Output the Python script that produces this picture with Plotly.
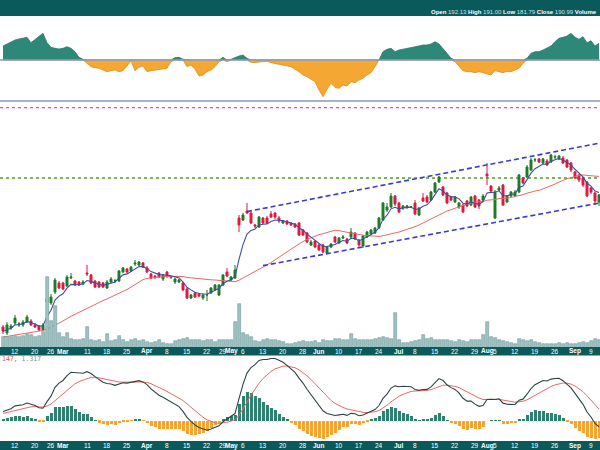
import plotly.graph_objects as go
import pandas as pd

W, H = 600, 450

# ---------------- data ----------------
tick_idx = [3, 8, 12, 15, 21, 26, 31, 36, 41, 46, 51, 55, 57, 60, 65, 70, 75, 79, 84, 89, 94,
            99, 103, 108, 113, 118, 121, 123, 128, 133, 138, 143, 147]
tick_text = ["12", "20", "26", "Mar", "11", "18", "25", "Apr", "8", "15", "22", "29", "May", "6", "13",
             "20", "28", "Jun", "10", "17", "24", "Jul", "8", "15", "22", "29", "Aug", "5", "12", "19",
             "26", "Sep", "9"]
month_labels = {"Mar", "Apr", "May", "Jun", "Jul", "Aug", "Sep"}

warmup_close = [154.5, 154.75, 154.25, 155, 155.25, 154.75, 155, 155.5, 155.25, 155, 155.75, 155.5,
                156, 155.75, 155.5, 155.25, 155.75, 156.25, 156.5, 156.25, 156.75, 157, 157.25, 157.5]

open_ = [158.25, 156.75, 158, 159.25, 158.75, 158.75, 159.5, 159.75, 158.75, 158.5,
         157.5, 164.5, 164.25, 167, 169.25, 169.25, 168.5, 170.5, 169.75, 169.5,
         169, 171.75, 171.25, 169.75, 169.5, 169.25, 168, 169.5, 169.75, 169.75,
         172, 172.75, 172.25, 174, 173.75, 174.25, 173, 171.5, 171, 171.75,
         170.25, 172, 170.75, 169.5, 169.5, 169.25, 167.75, 165.5, 166.75, 166.5,
         165.5, 166.25, 166.75, 167.5, 166.25, 168.75, 172, 170, 170.5, 185.5,
         185, 187.25, 186.75, 183.75, 183.25, 185.5, 185.5, 186.5, 186.75, 185.5,
         184.25, 184.75, 184.25, 184, 184.25, 182.5, 181.75, 178.75, 179.75, 178.75,
         178.75, 176.75, 178.25, 180.75, 179.25, 180.5, 180.25, 180.75, 181.75, 180,
         178.5, 180.75, 181.5, 181.75, 183, 185, 187.5, 188.25, 191, 189.25,
         188, 188.25, 188.25, 189.25, 186.25, 190.5, 190.75, 190, 192, 194.5,
         193.25, 191.75, 190.75, 189.5, 188.25, 188.75, 189.75, 188.75, 191, 190,
         190, 196.5, 193.5, 185.5, 192.5, 193.75, 189.5, 191, 191, 192,
         195.5, 195.75, 197.5, 200, 200.25, 199.25, 199.75, 199.5, 200.75, 200.25,
         200.5, 200, 199.25, 197, 196.25, 195.5, 194.5, 193, 191.75, 189.5]
high = [158.75, 159.5, 159, 161.25, 159.5, 160, 161.25, 160.25, 159.25, 158.75,
        159.25, 166, 166.5, 170.5, 169.75, 169.5, 171.25, 171.75, 170, 169.75,
        170, 173.75, 171.5, 170, 169.75, 169.5, 170, 170.75, 170.25, 172.5,
        173.25, 173, 173.5, 175, 174.75, 174.5, 173.5, 171.75, 171.25, 172,
        171.5, 172.25, 171, 170.5, 170.25, 169.5, 168, 166.5, 167, 166.75,
        166.5, 167.5, 168.25, 169, 169, 171.5, 173, 171, 173.75, 186.25,
        186.75, 189.25, 187, 184, 186, 185.75, 186, 187.25, 187, 186,
        185, 185, 184.5, 184.25, 184.5, 182.75, 182, 180, 180, 179,
        179, 178.5, 179.25, 181, 180.75, 181.25, 180.5, 183, 182, 180.25,
        181.25, 182.25, 182.75, 183.25, 185.75, 189.5, 189.25, 191.75, 191.25, 189.5,
        188.75, 188.75, 188.5, 190, 188.25, 191.75, 191.25, 192.25, 194.5, 196,
        193.5, 192, 191, 191, 189.5, 189, 190, 191, 191.25, 190.25,
        191.5, 199.25, 193.75, 192.5, 193.5, 194, 191.25, 192.25, 192.5, 196.5,
        195.75, 198.75, 200.5, 200.5, 200.5, 200.5, 200.25, 201.5, 201.25, 201.25,
        201, 200.25, 199.5, 197.25, 196.5, 195.75, 194.75, 193.25, 192, 191.5]
low = [156.5, 156.25, 157.5, 158.75, 158.25, 158.25, 159.25, 158.5, 158, 157.25,
       157.25, 164, 163.75, 166.5, 167.75, 167.5, 168.25, 170.25, 168.5, 168.5,
       168.75, 171, 169, 168, 168, 168, 167.75, 169.25, 169.25, 169.5,
       171.75, 171.75, 172, 173.5, 173.5, 173, 171.75, 170.25, 170.25, 170.5,
       169.75, 170.5, 170.25, 169, 169.25, 167.25, 165.25, 165.25, 165.5, 165.75,
       165, 164.75, 166.5, 167.25, 166, 168.5, 170.75, 169.75, 170.25, 182,
       184.75, 186.5, 184, 183, 183, 184, 184, 185.5, 185.25, 184.25,
       184, 183.75, 183.5, 183, 181, 181, 179.25, 178.5, 178, 177.25,
       176.75, 176.5, 178, 179.25, 179, 180.25, 179, 180.5, 180, 178.25,
       178, 180.5, 181.25, 181.5, 182.75, 184.75, 187, 188, 188.5, 186.75,
       187.5, 187.75, 188, 186.25, 186, 189.5, 189.25, 189.75, 191.75, 194.25,
       191, 189, 189.75, 189.25, 187.75, 186.75, 188.25, 188.5, 188, 187.75,
       189.75, 193.75, 192, 185.25, 192.25, 188.5, 189.25, 190.75, 190.75, 191.75,
       194, 195.5, 197.25, 199.5, 199.25, 199, 198.5, 199.25, 200.25, 200,
       199, 198, 197, 195.25, 194.5, 193.25, 190.75, 191.5, 188.75, 188.5]
close = [157.25, 158.75, 158.5, 160.5, 159, 159.5, 160.75, 158.75, 158.25, 157.5,
         158.75, 165.25, 165.75, 170, 168, 167.75, 170.75, 170.75, 168.75, 168.75,
         169.5, 171.5, 169.25, 168.25, 168.25, 168.25, 169.5, 170.25, 169.8, 172.25,
         173, 172, 173.25, 174.25, 174.5, 173.25, 172, 170.5, 170.75, 170.75,
         171.25, 171, 170.7, 170.25, 170, 167.5, 165.5, 166.25, 165.75, 166,
         166.25, 166.3, 168, 168.75, 168.75, 171.25, 171, 170.75, 172.5, 183.75,
         186.25, 186.75, 184.25, 183.5, 185.75, 184.25, 184.25, 185.75, 185.75, 184.75,
         184.75, 184, 183.75, 183.25, 181.25, 181.25, 179.5, 179.5, 178.25, 177.5,
         177, 178.25, 179, 179.5, 180.5, 180.75, 179.25, 182, 180.25, 178.75,
         181, 182, 182.5, 183, 185.5, 189.25, 188.25, 191, 189, 187,
         188.5, 188.5, 188.3, 186.5, 188, 189.75, 189.5, 192, 194.25, 195.75,
         191.25, 189.25, 190, 190.75, 189.25, 187, 188.5, 190.75, 188.25, 188.5,
         191, 196, 192.25, 192, 193, 188.75, 191, 192, 192, 196.25,
         194.25, 198.25, 200, 200.05, 199.5, 200.25, 198.75, 201.25, 200.8, 201,
         199.25, 198.25, 197.5, 195.5, 195, 193.75, 191, 192, 189.75, 191.25]
volume_m = [2.1, 2.1, 2.1, 2.2, 2.1, 2.2, 2.6, 2.4, 2.1, 2.2,
            3.1, 14.1, 5.3, 8.2, 2.9, 2.1, 2.9, 1.7, 1.5, 1.4,
            1.7, 4.1, 1.5, 1.3, 1.4, 1.1, 2.7, 1.3, 1.5, 2.2,
            1.4, 1.1, 1.5, 1.7, 1.3, 1.5, 1.1, 0.9, 1.1, 1.4,
            0.9, 0.7, 0.7, 1.3, 1.5, 1.7, 1.9, 1.5, 1.4, 1.5,
            1.3, 1.4, 1.4, 1.1, 1.4, 1.5, 1.5, 1.4, 5.1, 8.6,
            2.9, 2.4, 2.1, 1.3, 1.1, 1.4, 1.7, 1.4, 1.4, 1.3,
            1.1, 0.7, 0.7, 0.9, 1.1, 1.3, 1.1, 1.1, 1.3, 0.9,
            1.4, 1.3, 1.3, 1.7, 1.7, 1.5, 1.4, 2.7, 1.7, 1.5,
            1.4, 1.5, 1.4, 1.7, 1.9, 2.1, 1.9, 1.7, 6.9, 1.4,
            0.9, 0.9, 1.1, 1.3, 1.4, 2.4, 1.7, 1.9, 1.5, 1.4,
            1.5, 1.4, 1.3, 1.1, 1.4, 1.3, 1.1, 1.4, 1.4, 1.5,
            2.4, 5.1, 2.1, 1.9, 1.4, 1.3, 1.1, 0.9, 0.7, 1.7,
            1.4, 1.3, 1.4, 1.1, 0.9, 0.7, 0.7, 0.6, 0.7, 0.9,
            0.7, 0.9, 0.7, 0.7, 0.9, 1.1, 0.9, 1.3, 1.7, 1.4]
oscillator = [42, 48, 55, 60, 63, 65, 68, 52, 62, 72,
              80, 52, 38, 35, 33, 35, 40, 35, 25, 8,
              2, -10, -20, -23, -25, -30, -35, -32, -30, -35,
              -32, -18, -2, -32, -22, -18, -35, -32, -30, -28,
              -28, -25, -5, 7, 8, 2, -20, -15, -28, -48,
              -45, -35, -30, -20, -5, 8, -5, 2, 8, 12,
              15, 5, -7, -8, -6, -5, -4, -8, -10, -12,
              -15, -18, -20, -28, -35, -45, -50, -58, -65, -90,
              -110, -88, -70, -82, -85, -75, -78, -65, -68, -60,
              -55, -45, -38, -20, 0, 25, 32, 35, 25, 30,
              32, 35, 38, 40, 42, 45, 45, 48, 55, 48,
              35, 20, 5, -5, -20, -32, -35, -35, -38, -35,
              -38, -42, -45, -32, -35, -38, -34, -35, -30, -25,
              -10, 5, 20, 25, 25, 30, 35, 42, 55, 65,
              68, 72, 80, 68, 62, 70, 52, 58, 42, 50]

channel_upper_x = [61, 151]
channel_upper_y = [187.1, 204.6]
channel_lower_x = [65, 151]
channel_lower_y = [173.6, 189.6]
level_green = 195.5
level_pink = 213.1

header_text = ("<b>Open</b> <span style='color:#cfe3e3'>192.13</span> <b>High</b> "
               "<span style='color:#cfe3e3'>191.00</span> <b>Low</b> <span style='color:#cfe3e3'>181.79</span> "
               "<b>Close</b> <span style='color:#cfe3e3'>190.99</span> <b>Volume</b>")
macd_text = "<span style='color:#d9534f'>147,</span> <span style='color:#888'>1.317</span>"

# ---------------- derived indicators ----------------
n = len(close)
idx = list(range(n))
s = pd.Series(warmup_close + close)
nw = len(warmup_close)
ma_fast = s.ewm(span=5, adjust=False).mean().iloc[nw:].tolist()
ma_slow = s.rolling(25).mean().iloc[nw:].tolist()
ema12 = s.ewm(span=12, adjust=False).mean()
ema26 = s.ewm(span=26, adjust=False).mean()
macd_all = ema12 - ema26
sig_all = macd_all.ewm(span=9, adjust=False).mean()
macd = macd_all.iloc[nw:].tolist()
signal = sig_all.iloc[nw:].tolist()
hist = [m - g for m, g in zip(macd, signal)]
osc_pos = [v if v > 0 else 0 for v in oscillator]
osc_neg = [v if v < 0 else 0 for v in oscillator]

# ---------------- layout helpers ----------------
def py(y):
    return 1 - y / H

TEAL_DARK = "#0a5a5b"
GREEN = "#1f7a26"
RED = "#e2183f"
XR = [-0.75, 149.25]

fig = go.Figure()

# volume (behind candles)
fig.add_trace(go.Bar(x=idx, y=volume_m, xaxis="x", yaxis="y2", width=0.75,
                     marker=dict(color="#9fc1c1", line=dict(color="#6f9c9c", width=0.6)),
                     hoverinfo="skip"))
# moving averages
fig.add_trace(go.Scatter(x=idx, y=ma_slow, mode="lines", line=dict(color="#e46a6a", width=1),
                         xaxis="x", yaxis="y"))
fig.add_trace(go.Scatter(x=idx, y=ma_fast, mode="lines", line=dict(color="#3c4f9e", width=1.1),
                         xaxis="x", yaxis="y"))
# candles
fig.add_trace(go.Candlestick(x=idx, open=open_, high=high, low=low, close=close,
                             xaxis="x", yaxis="y", whiskerwidth=0,
                             increasing=dict(fillcolor=GREEN, line=dict(color=GREEN, width=1)),
                             decreasing=dict(fillcolor=RED, line=dict(color=RED, width=1))))
# channel lines
fig.add_trace(go.Scatter(x=channel_upper_x, y=channel_upper_y, mode="lines",
                         line=dict(color="#3a3ad0", width=1.6, dash="5px,3px"), xaxis="x", yaxis="y"))
fig.add_trace(go.Scatter(x=channel_lower_x, y=channel_lower_y, mode="lines",
                         line=dict(color="#3a3ad0", width=1.6, dash="5px,3px"), xaxis="x", yaxis="y"))

# top oscillator
fig.add_trace(go.Scatter(x=idx, y=osc_pos, mode="lines", fill="tozeroy", fillcolor="#2e8878",
                         line=dict(color="#2a7a6c", width=0.8), xaxis="x2", yaxis="y3"))
fig.add_trace(go.Scatter(x=idx, y=osc_neg, mode="lines", fill="tozeroy", fillcolor="#f5a733",
                         line=dict(color="#d99020", width=0.8), xaxis="x2", yaxis="y3"))

# MACD
fig.add_trace(go.Bar(x=idx, y=hist, xaxis="x3", yaxis="y4", width=0.75,
                     marker=dict(color=["#2f8272" if v >= 0 else "#f3a530" for v in hist],
                                 line=dict(width=0))))
fig.add_trace(go.Scatter(x=idx, y=signal, mode="lines", line=dict(color="#e46a6a", width=1),
                         xaxis="x3", yaxis="y4"))
fig.add_trace(go.Scatter(x=idx, y=macd, mode="lines", line=dict(color="#2c4444", width=1.1),
                         xaxis="x3", yaxis="y4"))

peak = max(macd)
macd_hi = peak * 65 / 62
macd_lo = -peak * 21 / 62

shapes = []
# dark bars
for y0, y1 in [(0, 16), (347, 355.5), (441, 450)]:
    shapes.append(dict(type="rect", xref="paper", yref="paper", x0=0, x1=1, y0=py(y1), y1=py(y0),
                       fillcolor=TEAL_DARK, line=dict(width=0), layer="above"))
# top panel zero line and border
shapes.append(dict(type="line", xref="paper", yref="y3", x0=0, x1=1, y0=0, y1=0,
                   line=dict(color="#8a98b8", width=1.4)))
shapes.append(dict(type="line", xref="paper", yref="paper", x0=0, x1=1, y0=py(101), y1=py(101),
                   line=dict(color="#8a98b8", width=1.6)))
# levels
shapes.append(dict(type="line", xref="paper", yref="y", x0=0, x1=1, y0=level_pink, y1=level_pink,
                   line=dict(color="#e040e0", width=1.4, dash="dot")))
shapes.append(dict(type="line", xref="paper", yref="y", x0=0, x1=1, y0=level_green, y1=level_green,
                   line=dict(color="#4f9a2a", width=1.4, dash="dot"), layer="below"))

annotations = []
for ybar in (351.3, 445.5):
    for t, lab in zip(tick_idx, tick_text):
        txt = f"<b>{lab}</b>" if lab in month_labels else lab
        annotations.append(dict(x=t, xref="x", y=py(ybar), yref="paper", text=txt, showarrow=False,
                                font=dict(color="white", size=6.5, family="Liberation Sans, Arial"),
                                xanchor="center", yanchor="middle"))
annotations.append(dict(x=0.998, xref="paper", y=py(11.5), yref="paper", text=header_text,
                        showarrow=False, xanchor="right", yanchor="middle",
                        font=dict(color="white", size=6, family="Liberation Sans, Arial")))
annotations.append(dict(x=0, xref="paper", y=py(358.5), yref="paper", text=macd_text,
                        showarrow=False, xanchor="left", yanchor="middle",
                        font=dict(size=6.5, family="DejaVu Sans Mono, monospace")))

ax_common = dict(range=XR, showgrid=False, zeroline=False, showticklabels=False, ticks="",
                 showline=False, fixedrange=True, rangeslider=dict(visible=False))
fig.update_layout(
    width=W, height=H, margin=dict(l=0, r=0, t=0, b=0),
    paper_bgcolor="white", plot_bgcolor="white", showlegend=False, bargap=0,
    xaxis=dict(**ax_common, anchor="y"),
    xaxis2=dict(**ax_common, anchor="y3"),
    xaxis3=dict(**ax_common, anchor="y4"),
    yaxis=dict(domain=[py(347), py(102)], range=[153.25, 214.5], visible=False),
    yaxis2=dict(domain=[py(347), py(102)], range=[0, 49], overlaying="y", visible=False),
    yaxis3=dict(domain=[py(101), py(16)], range=[-123, 132], visible=False),
    yaxis4=dict(domain=[py(441), py(355.5)], range=[macd_lo, macd_hi], visible=False),
    shapes=shapes, annotations=annotations,
)
fig.write_html("out.html", config={"displayModeBar": False},
               post_script="document.body.style.margin='0px';document.body.style.padding='0px';")
